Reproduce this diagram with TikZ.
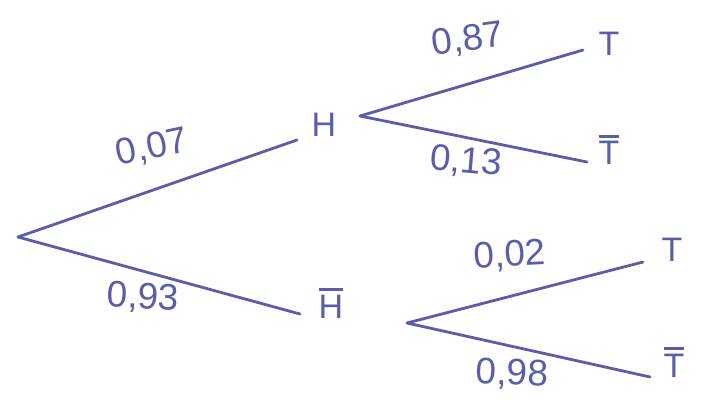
\documentclass[tikz,border=0pt]{standalone}
\usepackage{fontspec}
\setmainfont{Liberation Sans}
\definecolor{ink}{HTML}{5A5EA8}
\newcommand\barletter[1]{\vbox{\hrule height 2.6pt\kern 4pt\hbox{#1}}}
\tikzset{
  branch/.style={draw=ink, line width=2.8pt, line cap=round},
  prob/.style={text=ink, font=\fontsize{37}{37}\selectfont, inner sep=0pt},
  event/.style={text=ink, font=\fontsize{34}{34}\selectfont, inner sep=0pt}
}
\begin{document}
\begin{tikzpicture}[x=1pt,y=-1pt]
\useasboundingbox (0,0) rectangle (701,399);
% vertices and branch ends
\coordinate (root) at (18,237);
\coordinate (eH) at (297,140);
\coordinate (eHb) at (300,314);
\coordinate (vH) at (360,116);
\coordinate (eHT) at (583,50);
\coordinate (eHTb) at (587,162);
\coordinate (vHb) at (407,323);
\coordinate (eHbT) at (643,262);
\coordinate (eHbTb) at (650,377);
% event nodes
\node[event] (H) at (324,125) {H};
\node[event] (Hb) at (331,303) {\barletter{H}};
\node[event] (T1) at (609,44) {T};
\node[event] (T1b) at (609,150) {\barletter{T}};
\node[event] (T2) at (672,250) {T};
\node[event] (T2b) at (674,362) {\barletter{T}};
% branches
\draw[branch] (root) -- (eH);
\draw[branch] (root) -- (eHb);
\draw[branch] (vH) -- (eHT);
\draw[branch] (vH) -- (eHTb);
\draw[branch] (vHb) -- (eHbT);
\draw[branch] (vHb) -- (eHbTb);
% probabilities
\node[prob, rotate=12] (p1) at (152,148) {0,07};
\node[prob, rotate=-3] (p2) at (143,298) {0,93};
\node[prob, rotate=8] (p3) at (468,40) {0,87};
\node[prob, rotate=-5] (p4) at (466,162) {0,13};
\node[prob, rotate=3] (p5) at (510,256) {0,02};
\node[prob, rotate=-2] (p6) at (512,374) {0,98};
\end{tikzpicture}
\end{document}
